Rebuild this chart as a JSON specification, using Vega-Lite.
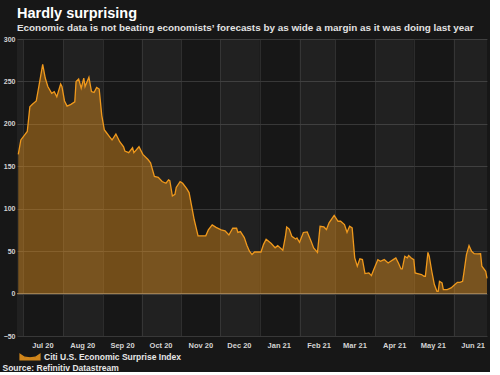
{
  "$schema": "https://vega.github.io/schema/vega-lite/v6.json",
  "width": 470,
  "height": 297,
  "autosize": {"type": "pad"},
  "padding": {"left": 2, "top": 5, "right": 0, "bottom": 0},
  "background": "#171717",
  "config": {"view": {"stroke": null}, "font": "Liberation Sans"},
  "title": {
    "text": "Hardly surprising",
    "subtitle": "Economic data is not beating economists’ forecasts by as wide a margin as it was doing last year",
    "anchor": "start",
    "frame": "group",
    "font": "Liberation Sans",
    "subtitleFont": "Liberation Sans",
    "fontSize": 14.5,
    "subtitleFontSize": 9.9,
    "fontWeight": "bold",
    "subtitleFontWeight": "bold",
    "color": "#ffffff",
    "subtitleColor": "#e2e2e2",
    "subtitlePadding": 2,
    "offset": 1
  },
  "datasets": {
    "series": [
      {"date": "2020-06-27", "v": 164}, {"date": "2020-06-29", "v": 181}, {"date": "2020-07-02", "v": 187},
      {"date": "2020-07-04", "v": 191}, {"date": "2020-07-06", "v": 220}, {"date": "2020-07-08", "v": 223},
      {"date": "2020-07-11", "v": 227}, {"date": "2020-07-13", "v": 244}, {"date": "2020-07-16", "v": 270},
      {"date": "2020-07-18", "v": 254}, {"date": "2020-07-20", "v": 244}, {"date": "2020-07-23", "v": 236},
      {"date": "2020-07-25", "v": 238}, {"date": "2020-07-27", "v": 232}, {"date": "2020-07-30", "v": 247},
      {"date": "2020-07-31", "v": 244}, {"date": "2020-08-02", "v": 227}, {"date": "2020-08-04", "v": 221},
      {"date": "2020-08-07", "v": 223}, {"date": "2020-08-10", "v": 226}, {"date": "2020-08-11", "v": 250},
      {"date": "2020-08-13", "v": 253}, {"date": "2020-08-15", "v": 242}, {"date": "2020-08-17", "v": 254},
      {"date": "2020-08-18", "v": 244}, {"date": "2020-08-21", "v": 255}, {"date": "2020-08-23", "v": 238},
      {"date": "2020-08-25", "v": 237}, {"date": "2020-08-27", "v": 243}, {"date": "2020-08-29", "v": 241},
      {"date": "2020-08-31", "v": 210}, {"date": "2020-09-02", "v": 193}, {"date": "2020-09-03", "v": 191},
      {"date": "2020-09-06", "v": 185}, {"date": "2020-09-08", "v": 181}, {"date": "2020-09-11", "v": 188},
      {"date": "2020-09-14", "v": 179}, {"date": "2020-09-17", "v": 173}, {"date": "2020-09-18", "v": 168},
      {"date": "2020-09-21", "v": 166}, {"date": "2020-09-24", "v": 172}, {"date": "2020-09-25", "v": 166},
      {"date": "2020-09-29", "v": 173}, {"date": "2020-10-02", "v": 164}, {"date": "2020-10-06", "v": 158},
      {"date": "2020-10-08", "v": 154}, {"date": "2020-10-11", "v": 138}, {"date": "2020-10-14", "v": 137},
      {"date": "2020-10-17", "v": 132}, {"date": "2020-10-20", "v": 130}, {"date": "2020-10-22", "v": 134},
      {"date": "2020-10-23", "v": 133}, {"date": "2020-10-25", "v": 115}, {"date": "2020-10-27", "v": 117},
      {"date": "2020-10-28", "v": 125}, {"date": "2020-10-31", "v": 132}, {"date": "2020-11-02", "v": 130},
      {"date": "2020-11-05", "v": 124}, {"date": "2020-11-07", "v": 119}, {"date": "2020-11-09", "v": 103},
      {"date": "2020-11-11", "v": 87}, {"date": "2020-11-14", "v": 68}, {"date": "2020-11-18", "v": 68},
      {"date": "2020-11-20", "v": 68}, {"date": "2020-11-22", "v": 75}, {"date": "2020-11-25", "v": 81},
      {"date": "2020-11-28", "v": 78}, {"date": "2020-12-02", "v": 75}, {"date": "2020-12-05", "v": 74},
      {"date": "2020-12-08", "v": 69}, {"date": "2020-12-11", "v": 77}, {"date": "2020-12-14", "v": 77},
      {"date": "2020-12-15", "v": 72}, {"date": "2020-12-17", "v": 73}, {"date": "2020-12-20", "v": 66},
      {"date": "2020-12-22", "v": 57}, {"date": "2020-12-24", "v": 50}, {"date": "2020-12-26", "v": 46},
      {"date": "2020-12-28", "v": 49}, {"date": "2021-01-02", "v": 49}, {"date": "2021-01-04", "v": 58},
      {"date": "2021-01-06", "v": 64}, {"date": "2021-01-10", "v": 59}, {"date": "2021-01-13", "v": 54},
      {"date": "2021-01-15", "v": 56.5}, {"date": "2021-01-19", "v": 51}, {"date": "2021-01-21", "v": 67},
      {"date": "2021-01-22", "v": 78.5}, {"date": "2021-01-24", "v": 76}, {"date": "2021-01-26", "v": 67.5},
      {"date": "2021-01-29", "v": 64.4}, {"date": "2021-01-30", "v": 65.6}, {"date": "2021-02-01", "v": 60.4},
      {"date": "2021-02-04", "v": 72}, {"date": "2021-02-07", "v": 72.7}, {"date": "2021-02-10", "v": 61.6},
      {"date": "2021-02-12", "v": 53.8}, {"date": "2021-02-15", "v": 48.6}, {"date": "2021-02-17", "v": 79.3},
      {"date": "2021-02-20", "v": 78.5}, {"date": "2021-02-22", "v": 75.4}, {"date": "2021-02-24", "v": 83.3},
      {"date": "2021-02-28", "v": 92}, {"date": "2021-03-03", "v": 85.2}, {"date": "2021-03-05", "v": 85.2},
      {"date": "2021-03-08", "v": 81.3}, {"date": "2021-03-10", "v": 72.2}, {"date": "2021-03-12", "v": 79.3},
      {"date": "2021-03-14", "v": 77.4}, {"date": "2021-03-16", "v": 42}, {"date": "2021-03-18", "v": 32.2},
      {"date": "2021-03-20", "v": 40.9}, {"date": "2021-03-22", "v": 40}, {"date": "2021-03-24", "v": 23.6},
      {"date": "2021-03-27", "v": 24.4}, {"date": "2021-03-29", "v": 21.2}, {"date": "2021-03-31", "v": 29},
      {"date": "2021-04-03", "v": 40}, {"date": "2021-04-05", "v": 38}, {"date": "2021-04-08", "v": 40},
      {"date": "2021-04-11", "v": 36}, {"date": "2021-04-13", "v": 38}, {"date": "2021-04-15", "v": 40},
      {"date": "2021-04-17", "v": 42}, {"date": "2021-04-19", "v": 36}, {"date": "2021-04-21", "v": 29},
      {"date": "2021-04-22", "v": 29}, {"date": "2021-04-24", "v": 44}, {"date": "2021-04-26", "v": 42},
      {"date": "2021-04-27", "v": 44.8}, {"date": "2021-04-29", "v": 42}, {"date": "2021-05-01", "v": 40},
      {"date": "2021-05-02", "v": 24.4}, {"date": "2021-05-04", "v": 23.6}, {"date": "2021-05-07", "v": 22.4},
      {"date": "2021-05-09", "v": 20.4}, {"date": "2021-05-10", "v": 20.4}, {"date": "2021-05-12", "v": 48.6},
      {"date": "2021-05-13", "v": 44}, {"date": "2021-05-15", "v": 26.3}, {"date": "2021-05-17", "v": 10.6},
      {"date": "2021-05-19", "v": 2.7}, {"date": "2021-05-20", "v": 2.7}, {"date": "2021-05-21", "v": 14.5},
      {"date": "2021-05-23", "v": 12.6}, {"date": "2021-05-24", "v": 4.7}, {"date": "2021-05-27", "v": 4.7},
      {"date": "2021-05-30", "v": 6.7}, {"date": "2021-06-02", "v": 10.6}, {"date": "2021-06-04", "v": 13.3},
      {"date": "2021-06-06", "v": 13.3}, {"date": "2021-06-08", "v": 14.5}, {"date": "2021-06-09", "v": 24.4},
      {"date": "2021-06-11", "v": 46}, {"date": "2021-06-13", "v": 56.5}, {"date": "2021-06-15", "v": 49.8},
      {"date": "2021-06-17", "v": 47}, {"date": "2021-06-20", "v": 46.7}, {"date": "2021-06-22", "v": 47},
      {"date": "2021-06-23", "v": 32.2}, {"date": "2021-06-26", "v": 26.3}, {"date": "2021-06-27", "v": 18}
    ],
    "bands": [
      {"start": "2020-06-26", "end": "2020-07-01"},
      {"start": "2020-08-01", "end": "2020-09-01"},
      {"start": "2020-10-01", "end": "2020-11-01"},
      {"start": "2020-12-01", "end": "2021-01-01"},
      {"start": "2021-02-01", "end": "2021-03-01"},
      {"start": "2021-04-01", "end": "2021-05-01"},
      {"start": "2021-06-01", "end": "2021-06-27"}
    ]
  },
  "layer": [
    {
      "data": {"name": "bands"},
      "mark": {"type": "rect", "color": "#ffffff", "opacity": 0.045},
      "encoding": {
        "x": {
          "field": "start",
          "type": "temporal",
          "scale": {
            "type": "utc",
            "domain": [
              {"year": 2020, "month": 6, "date": 26, "utc": true},
              {"year": 2021, "month": 6, "date": 27, "utc": true}
            ]
          },
          "axis": {
            "values": [
              {"year": 2020, "month": 7, "date": 1, "utc": true},
              {"year": 2020, "month": 8, "date": 1, "utc": true},
              {"year": 2020, "month": 9, "date": 1, "utc": true},
              {"year": 2020, "month": 10, "date": 1, "utc": true},
              {"year": 2020, "month": 11, "date": 1, "utc": true},
              {"year": 2020, "month": 12, "date": 1, "utc": true},
              {"year": 2021, "month": 1, "date": 1, "utc": true},
              {"year": 2021, "month": 2, "date": 1, "utc": true},
              {"year": 2021, "month": 3, "date": 1, "utc": true},
              {"year": 2021, "month": 4, "date": 1, "utc": true},
              {"year": 2021, "month": 5, "date": 1, "utc": true},
              {"year": 2021, "month": 6, "date": 1, "utc": true}
            ],
            "format": "%b %y",
            "labelOffset": 19,
            "labelFlush": false,
            "labelOverlap": false,
            "labelAlign": "center",
            "labelFont": "Liberation Sans",
            "labelFontSize": 7.5,
            "labelFontWeight": "bold",
            "labelColor": "#d4d4d4",
            "labelPadding": 5,
            "ticks": false,
            "domain": false,
            "grid": true,
            "gridColor": "#2c2c2c",
            "gridWidth": 1,
            "title": "Source: Refinitiv Datastream",
            "titleFont": "Liberation Sans",
            "titleFontSize": 8.5,
            "titleFontWeight": "bold",
            "titleColor": "#e6e6e6",
            "titleAnchor": "start",
            "titleAlign": "left",
            "titleBaseline": "middle",
            "titleX": -15,
            "titleY": 31
          }
        },
        "x2": {"field": "end"}
      }
    },
    {
      "data": {"name": "series"},
      "mark": {
        "type": "area",
        "fillOpacity": 0.42,
        "line": {"strokeWidth": 1.3}
      },
      "encoding": {
        "x": {"field": "date", "type": "temporal"},
        "y": {
          "field": "v",
          "type": "quantitative",
          "scale": {"domain": [-50, 300], "nice": false, "zero": false},
          "axis": {
            "values": [-50, 0, 50, 100, 150, 200, 250, 300],
            "title": null,
            "labelFont": "Liberation Sans",
            "labelFontSize": 7,
            "labelFontWeight": "bold",
            "labelColor": "#d4d4d4",
            "labelPadding": 2,
            "ticks": false,
            "domain": false,
            "grid": true,
            "gridColor": "#383838",
            "gridWidth": 1
          }
        },
        "color": {
          "datum": "Citi U.S. Economic Surprise Index",
          "scale": {"range": ["#f0991c"]},
          "legend": {
            "orient": "none",
            "legendX": 2,
            "legendY": 307,
            "title": null,
            "padding": 0,
            "labelLimit": 400,
            "symbolType": "M-1,-0.28 L-0.55,0.02 L0,0.08 L0.55,0.02 L1,-0.28 L1,0.3 L-1,0.3 Z",
            "symbolSize": 400,
            "symbolStrokeWidth": 1.2,
            "symbolOpacity": 0.85,
            "labelFont": "Liberation Sans",
            "labelFontSize": 8.5,
            "labelFontWeight": "bold",
            "labelColor": "#e6e6e6",
            "labelOffset": 3
          }
        }
      }
    },
    {
      "data": {"values": [{}]},
      "mark": {"type": "rule", "color": "#b08c5a", "strokeWidth": 1, "opacity": 0.9},
      "encoding": {"y": {"datum": 0}}
    }
  ]
}
